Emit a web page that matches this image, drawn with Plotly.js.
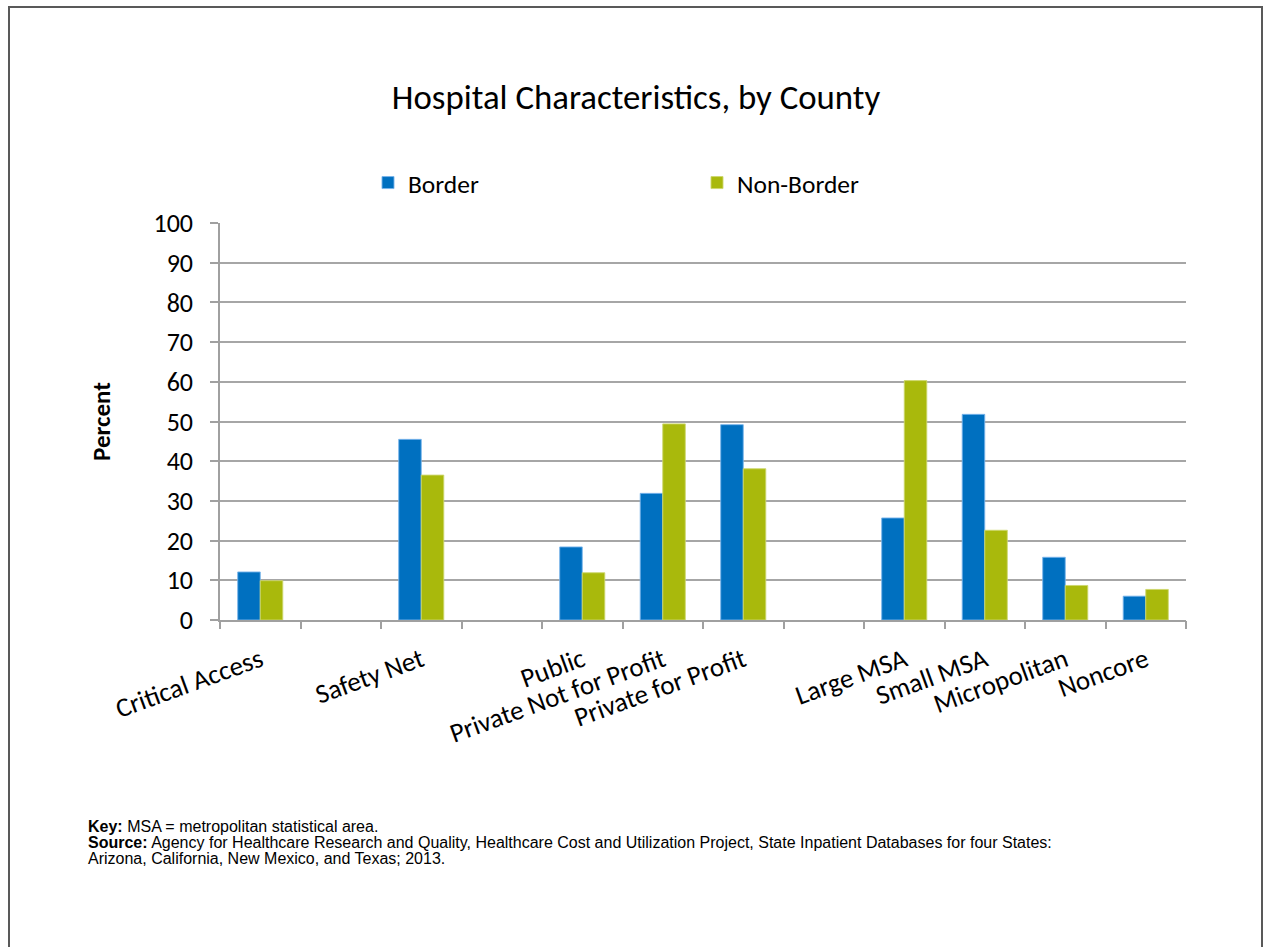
<!DOCTYPE html>
<html>
<head>
<meta charset="utf-8">
<script src="https://cdn.plot.ly/plotly-3.0.1.min.js"></script>
<style>
  html, body { margin: 0; padding: 0; background: #ffffff; }
  #chart { width: 1264px; height: 947px; }
</style>
</head>
<body>
<div id="chart"></div>
<script>
// ---- Data ----
const categories = [
  "Critical Access", "", "Safety Net", "", "Public",
  "Private Not for Profit", "Private for Profit", "",
  "Large MSA", "Small MSA", "Micropolitan", "Noncore"
];
const borderValues    = [12.1, null, 45.5, null, 18.4, 31.9, 49.2, null, 25.7, 51.8, 15.8, 6.0];
const nonBorderValues = [ 9.9, null, 36.5, null, 11.9, 49.4, 38.1, null, 60.3, 22.6,  8.7, 7.7];
const seriesNames = ["Border", "Non-Border"];
const yTickValues = [0, 10, 20, 30, 40, 50, 60, 70, 80, 90, 100];
const chartTitle = "Hospital Characteristics, by County";
const yAxisTitle = "Percent";
const footnoteLines = [
  "<b>Key:</b> MSA = metropolitan statistical area.",
  "<b>Source:</b> Agency for Healthcare Research and Quality, Healthcare Cost and Utilization Project, State Inpatient Databases for four States:",
  "Arizona, California, New Mexico, and Texas; 2013."
];

// ---- Build ----
const idx = categories.map((c, i) => i);
const boundaries = categories.map((c, i) => i - 0.5).concat([categories.length - 0.5]);
const FONT = "Calibri, Carlito, Lato, sans-serif";

const traces = [
  {
    type: "bar", name: seriesNames[0], x: idx, y: borderValues,
    marker: { color: "#0070C0", line: { color: "rgba(120,180,235,0.9)", width: 1 } },
    hoverinfo: "x+y"
  },
  {
    type: "bar", name: seriesNames[1], x: idx, y: nonBorderValues,
    marker: { color: "#A9B90C", line: { color: "rgba(205,215,110,0.9)", width: 1 } },
    hoverinfo: "x+y"
  },
  {
    type: "scatter", x: [idx[0]], y: [0], xaxis: "x2", mode: "none",
    showlegend: false, hoverinfo: "skip"
  }
];

const L = 220, R = 1186, T = 223, B = 620, W = 1264, H = 947;
const pw = R - L, ph = B - T;
const px = v => (v - L) / pw;
const py = v => (B - v) / ph;

const footLineY = [826, 842, 858];
const annotations = footnoteLines.map((t, i) => ({
  xref: "paper", yref: "paper",
  x: px(86), y: py(footLineY[i]), xanchor: "left", yanchor: "middle",
  align: "left", showarrow: false, text: t,
  font: { family: "Arial, 'Liberation Sans', sans-serif", size: 16, color: "#000000" }
}));

const layout = {
  width: W, height: H,
  margin: { l: L, r: W - R, t: T, b: H - B, pad: 0 },
  paper_bgcolor: "#ffffff",
  plot_bgcolor: "#ffffff",
  font: { family: FONT, color: "#000000" },
  title: {
    text: chartTitle,
    font: { family: FONT, size: 34.8, color: "#000000" },
    xref: "paper", x: px(636), xanchor: "center",
    yref: "container", y: 1 - 97 / H, yanchor: "middle"
  },
  barmode: "group",
  bargap: 0.44,
  bargroupgap: 0,
  showlegend: true,
  legend: {
    orientation: "h",
    x: px(368), xanchor: "left",
    y: py(183), yanchor: "middle",
    font: { family: FONT, size: 25.5, color: "#000000" },
    entrywidth: 284, entrywidthmode: "pixels",
    bgcolor: "rgba(0,0,0,0)"
  },
  xaxis: {
    type: "linear",
    range: [-0.5, categories.length - 0.5],
    tickmode: "array",
    tickvals: idx,
    ticktext: categories,
    tickangle: -20,
    ticks: "",
    ticklabelstandoff: 12,
    tickfont: { family: FONT, size: 27, color: "#000000" },
    showgrid: false,
    zeroline: false,
    showline: true, linecolor: "#A0A0A0", linewidth: 1.5,
    fixedrange: true
  },
  xaxis2: {
    overlaying: "x",
    anchor: "y",
    side: "bottom",
    range: [-0.5, categories.length - 0.5],
    tickmode: "array",
    tickvals: boundaries,
    ticks: "outside", ticklen: 8, tickwidth: 1.5, tickcolor: "#A0A0A0",
    showticklabels: false,
    showgrid: false, zeroline: false, showline: false,
    fixedrange: true
  },
  yaxis: {
    range: [0, 100],
    tickmode: "array",
    tickvals: yTickValues,
    ticks: "outside", ticklen: 8, tickwidth: 1.5, tickcolor: "#A0A0A0",
    ticklabelstandoff: 12,
    tickfont: { family: FONT, size: 26, color: "#000000" },
    showgrid: true, gridcolor: "#A6A6A6", gridwidth: 1.5,
    zeroline: false,
    showline: true, linecolor: "#A0A0A0", linewidth: 1.5,
    title: { text: "<b>" + yAxisTitle + "</b>", font: { family: FONT, size: 25, color: "#000000" }, standoff: 36 },
    fixedrange: true
  },
  annotations: annotations,
  shapes: [
    {
      type: "rect", xref: "paper", yref: "paper",
      x0: px(9), x1: px(1262), y0: py(1000), y1: py(7),
      line: { color: "#595959", width: 2 }, fillcolor: "rgba(0,0,0,0)", layer: "below"
    }
  ]
};

Plotly.newPlot("chart", traces, layout, { displayModeBar: false, responsive: false });
</script>
</body>
</html>
